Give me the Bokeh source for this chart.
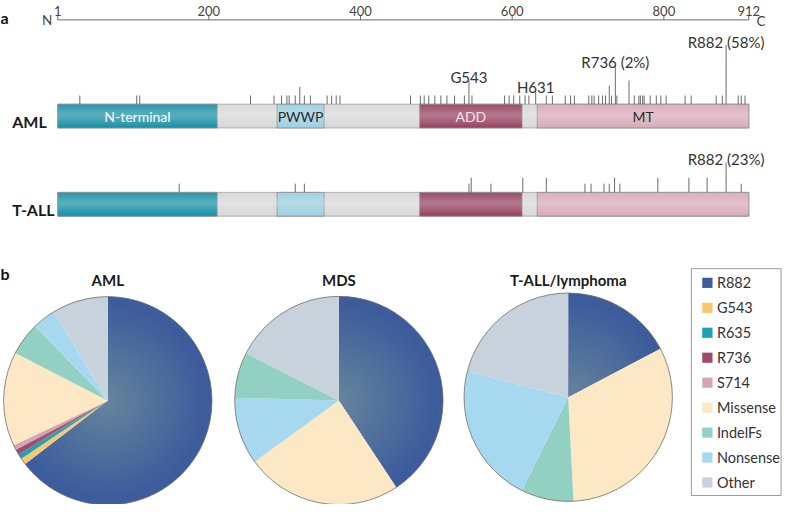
import math
from bokeh.plotting import figure
from bokeh.models import Range1d, ColumnDataSource
from bokeh.core.properties import value
from bokeh.embed import file_html
from bokeh.resources import INLINE

# ------------------------------------------------------------------ data
axis_ticks = [1, 200, 400, 600, 800, 912]
axis_tick_labels = ["1", "200", "400", "600", "800", "912"]

domain_names = ["N-terminal", "PWWP", "ADD", "MT"]
domain_start = [1, 290, 478, 633]
domain_end = [211, 352, 613, 912]

# AML mutation positions (residue) and marker heights
aml_pos = [30, 105, 109, 255, 286, 296, 303, 306, 314, 320, 326, 334, 356, 362,
           368, 373, 466, 479, 484, 490, 498, 506, 514, 524, 537, 543, 547, 590,
           596, 602, 610, 617, 622, 631, 645, 653, 670, 677, 682, 701, 705, 708,
           714, 719, 723, 728, 731, 736, 738, 754, 761, 767, 769, 772, 774, 782,
           790, 796, 803, 828, 836, 869, 877, 882, 898, 902, 907]
aml_height = [9, 9, 9, 9, 9, 9, 9, 9, 9, 18, 9, 9, 9, 9,
              9, 9, 9, 9, 9, 9, 9, 9, 9, 9, 9, 24.5, 9, 9,
              9, 9, 9, 9, 9, 14.5, 9, 9, 9, 9, 9, 9, 9, 9,
              9, 9, 9, 19, 9, 40, 9, 24.5, 9, 9, 9, 9, 9, 9,
              9, 9, 9, 9, 9, 9, 9, 61, 9, 9, 9]
aml_labels = ["G543", "H631", "R736 (2%)", "R882 (58%)"]
aml_label_pos = [543, 631, 736, 882]

tall_pos = [161, 314, 326, 543, 546, 572, 614, 645, 696, 704, 721, 728, 735,
            742, 792, 833, 857, 882, 902]
tall_height = [9, 9, 9, 9, 15, 9, 15, 15, 9, 9, 9, 9, 15,
               9, 15, 15, 15, 31, 9]
tall_labels = ["R882 (23%)"]
tall_label_pos = [882]

legend_categories = ["R882", "G543", "R635", "R736", "S714",
                     "Missense", "IndelFs", "Nonsense", "Other"]
legend_colors = ["#3d5c9c", "#f6c86a", "#1ba2b6", "#a14a6a", "#d5a5b2",
                 "#fde8c6", "#92d0c2", "#a6d8ef", "#c8d2dc"]

aml_pie_cats = ["R882", "G543", "R635", "R736", "S714",
                "Missense", "IndelFs", "Nonsense", "Other"]
aml_pie_vals = [64.6, 1.0, 0.8, 0.8, 0.8, 14.6, 5.1, 3.6, 8.7]

mds_pie_cats = ["R882", "Missense", "Nonsense", "IndelFs", "Other"]
mds_pie_vals = [40.7, 24.3, 10.4, 7.1, 17.5]

tall_pie_cats = ["R882", "Missense", "IndelFs", "Nonsense", "Other"]
tall_pie_vals = [17.3, 31.9, 8.1, 21.7, 21.0]

pie_titles = ["AML", "MDS", "T-ALL/lymphoma"]

# ------------------------------------------------------------------ style / layout
FONT = value("Lato")
W, H = 784, 504
REF_W, REF_H = 800, 520


def Y(v):
    return REF_H - v


PX0, PX1 = 58.5, 763.6           # reference x of residue 1 and 912
scale = (PX1 - PX0) / (912 - 1)
res_start = 1 - PX0 / scale
res_end = 912 + (REF_W - PX1) / scale

p = figure(width=W, height=H, x_range=Range1d(0, REF_W), y_range=Range1d(0, REF_H),
           output_backend="svg", toolbar_location=None, min_border=0,
           x_axis_location=None, y_axis_location=None)
p.grid.visible = False
p.outline_line_color = None
p.background_fill_color = "white"
p.extra_x_ranges = {"res": Range1d(res_start, res_end)}

# ---------------- panel a : top axis
AX_Y = 20
p.segment(x0=[axis_ticks[0]], x1=[axis_ticks[-1]], y0=[Y(AX_Y)], y1=[Y(AX_Y)],
          x_range_name="res", line_color="#6a6a6a", line_width=1)
p.segment(x0=axis_ticks, x1=axis_ticks, y0=[Y(AX_Y)] * len(axis_ticks),
          y1=[Y(AX_Y - 5)] * len(axis_ticks), x_range_name="res",
          line_color="#6a6a6a", line_width=1)
p.text(x=axis_ticks, y=[Y(10.5)] * len(axis_ticks), text=axis_tick_labels,
       x_range_name="res", text_font=FONT, text_font_size="13px",
       text_color="#444444", text_align="center", text_baseline="alphabetic")
p.text(x=[47.5], y=[Y(20.5)], text=["N"], text_font=FONT, text_font_size="13.5px",
       text_color="#444444", text_align="center", text_baseline="alphabetic")
p.text(x=[776], y=[Y(21.5)], text=["C"], text_font=FONT, text_font_size="13.5px",
       text_color="#444444", text_align="center", text_baseline="alphabetic")

p.text(x=[0], y=[Y(17.5)], text=["a"], text_font=FONT, text_font_size="16px",
       text_font_style="bold", text_color="#111111", text_baseline="alphabetic")
p.text(x=[0], y=[Y(281.5)], text=["b"], text_font=FONT, text_font_size="16px",
       text_font_style="bold", text_color="#111111", text_baseline="alphabetic")

domain_colors = ["#1993a9", "#9dd1e5", "#984462", "#d9adb9"]
domain_text_colors = ["#ffffff", "#2b2b2b", "#f6e2e8", "#2b2b2b"]


def protein_bar(top, bottom, pos, heights, labels, label_pos, name, name_baseline,
                show_domain_names):
    # backbone
    p.quad(left=[1], right=[912], top=[Y(top)], bottom=[Y(bottom)], x_range_name="res",
           fill_color="#d9d9d9", line_color="#a0a0a0", line_width=0.8)
    # domains
    p.quad(left=domain_start, right=domain_end, top=[Y(top)] * 4,
           bottom=[Y(bottom)] * 4, x_range_name="res", fill_color=domain_colors,
           line_color="#8a8a8a", line_width=0.8)
    # tube shading (lighter in the middle)
    hgt = bottom - top
    mid = top + hgt * 0.45
    for k in range(9):
        f = 0.96 - k * 0.1
        p.quad(left=[1], right=[912], top=[Y(mid - hgt * f / 2)],
               bottom=[Y(mid + hgt * f / 2)], x_range_name="res",
               fill_color="white", fill_alpha=0.035, line_color=None)
    # mutation markers
    p.segment(x0=pos, x1=pos, y0=[Y(top)] * len(pos),
              y1=[Y(top) + h for h in heights], x_range_name="res",
              line_color="#5a5a5a", line_width=0.9)
    # marker labels
    lab_y = [Y(top) + heights[pos.index(lp)] + 3.5 for lp in label_pos]
    p.text(x=label_pos, y=lab_y, text=labels, x_range_name="res", text_font=FONT,
           text_font_size="15px", text_color="#333333", text_align="center",
           text_baseline="alphabetic")
    # row name
    p.text(x=[12], y=[Y(name_baseline)], text=[name], text_font=FONT,
           text_font_size="16px", text_font_style="bold", text_color="#1a1a1a",
           text_baseline="alphabetic")
    if show_domain_names:
        cx = [(a + b) / 2 for a, b in zip(domain_start, domain_end)]
        p.text(x=cx, y=[Y(top + hgt * 0.5)] * 4, text=domain_names, x_range_name="res",
               text_font=FONT, text_font_size="14px", text_color=domain_text_colors,
               text_align="center", text_baseline="middle")


protein_bar(107, 131.5, aml_pos, aml_height, aml_labels, aml_label_pos, "AML", 124.5, True)
protein_bar(198, 222.5, tall_pos, tall_height, tall_labels, tall_label_pos, "T-ALL", 216, False)

# ---------------- panel b : pies
color_of = dict(zip(legend_categories, legend_colors))
R = 106.3


def pie(cx, cy, cats, vals, title):
    total = float(sum(vals))
    starts, ends, cols = [], [], []
    acc = 0.0
    for c, v in zip(cats, vals):
        a0 = acc / total
        acc += v
        a1 = acc / total
        # clockwise from 12 o'clock
        starts.append(math.pi / 2 - 2 * math.pi * a1)
        ends.append(math.pi / 2 - 2 * math.pi * a0)
        cols.append(color_of[c])
    src = ColumnDataSource(dict(start=starts, end=ends, color=cols, cat=cats, val=vals))
    p.wedge(x=cx, y=Y(cy), radius=R, start_angle="start", end_angle="end",
            fill_color="color", line_color=None, source=src)
    # radial highlight
    n = 40
    for i in range(n):
        r = R * (0.92 - 0.92 * i / n)
        p.circle(x=[cx], y=[Y(cy)], radius=r, fill_color="#e9ecff", fill_alpha=0.009,
                 line_color=None)
    p.circle(x=[cx], y=[Y(cy)], radius=R, fill_color=None, line_color="#6e6e6e",
             line_width=0.8)
    p.text(x=[cx], y=[Y(288)], text=[title], text_font=FONT, text_font_size="15px",
           text_font_style="bold", text_color="#1a1a1a", text_align="center",
           text_baseline="alphabetic")


pie(109.5, 413.0, aml_pie_cats, aml_pie_vals, pie_titles[0])
pie(345.3, 412.7, mds_pie_cats, mds_pie_vals, pie_titles[1])
pie(579.3, 409.3, tall_pie_cats, tall_pie_vals, pie_titles[2])

# legend
p.quad(left=[705], right=[796.5], top=[Y(276.7)], bottom=[Y(510.7)],
       fill_color="white", line_color="#9a9a9a", line_width=1)
PITCH = 25.75
ly = [Y(291.3 + i * PITCH) for i in range(len(legend_categories))]
p.rect(x=[721.3] * len(ly), y=ly, width=10.5, height=10.5, fill_color=legend_colors,
       line_color=None)
p.text(x=[731] * len(ly), y=ly, text=legend_categories, text_font=FONT,
       text_font_size="14.5px", text_color="#333333", text_baseline="middle")

open("out.html", "w").write(file_html(p, INLINE))
